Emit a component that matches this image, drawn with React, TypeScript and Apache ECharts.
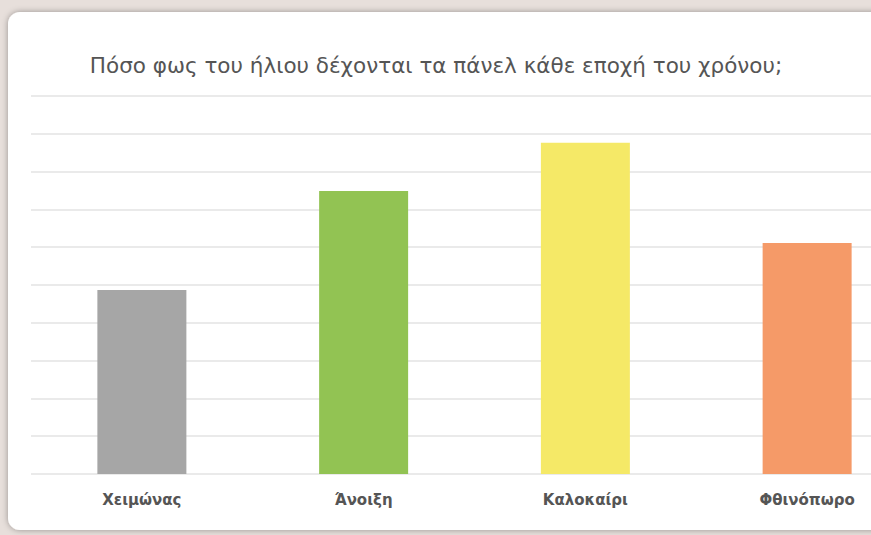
import React, { useEffect, useRef } from "react";
import * as echarts from "echarts";

const titleText = "Πόσο φως του ήλιου δέχονται τα πάνελ κάθε εποχή του χρόνου;";
const categories = ["Χειμώνας", "Άνοιξη", "Καλοκαίρι", "Φθινόπωρο"];
const values = [4.87, 7.49, 8.76, 6.11];
const barColors = ["#a6a6a6", "#92c353", "#f5e967", "#f59a68"];

export default function App() {
  const ref = useRef<HTMLDivElement>(null);
  useEffect(() => {
    if (!ref.current) return;
    const chart = echarts.init(ref.current, undefined, { renderer: "svg" });
    chart.setOption({
      animation: false,
      backgroundColor: "#e7dfdb",
      graphic: {
        elements: [
          {
            type: "rect",
            z: -100,
            silent: true,
            shape: { x: 8, y: 12, width: 960, height: 518, r: 12 },
            style: {
              fill: "#ffffff",
              shadowBlur: 6,
              shadowColor: "rgba(0,0,0,0.35)",
              shadowOffsetX: 0,
              shadowOffsetY: 0,
            },
          },
          {
            type: "text",
            x: 436,
            y: 65,
            silent: true,
            style: {
              text: titleText,
              align: "center",
              verticalAlign: "middle",
              fontFamily: "DejaVu Sans",
              fontSize: 21.5,
              fill: "#555555",
            },
          },
        ],
      },
      grid: { left: 31, right: 0, top: 96, bottom: 61 },
      xAxis: {
        type: "category",
        data: categories,
        axisLine: { show: false },
        axisTick: { show: false },
        axisLabel: {
          margin: 18,
          fontFamily: "DejaVu Sans",
          fontSize: 15,
          fontWeight: "bold",
          color: "#555555",
        },
      },
      yAxis: {
        type: "value",
        min: 0,
        max: 10,
        interval: 1,
        axisLabel: { show: false },
        axisLine: { show: false },
        axisTick: { show: false },
        splitLine: { lineStyle: { color: "#e3e3e3", width: 1.5 } },
      },
      series: [
        {
          type: "bar",
          barWidth: 89,
          data: values.map((v, i) => ({ value: v, itemStyle: { color: barColors[i] } })),
        },
      ],
    });
    return () => chart.dispose();
  }, []);
  return (
    <div style={{ position: "fixed", left: 0, top: 0, width: 871, height: 535, overflow: "hidden" }}>
      <div ref={ref} style={{ width: 918, height: 535 }} />
    </div>
  );
}
